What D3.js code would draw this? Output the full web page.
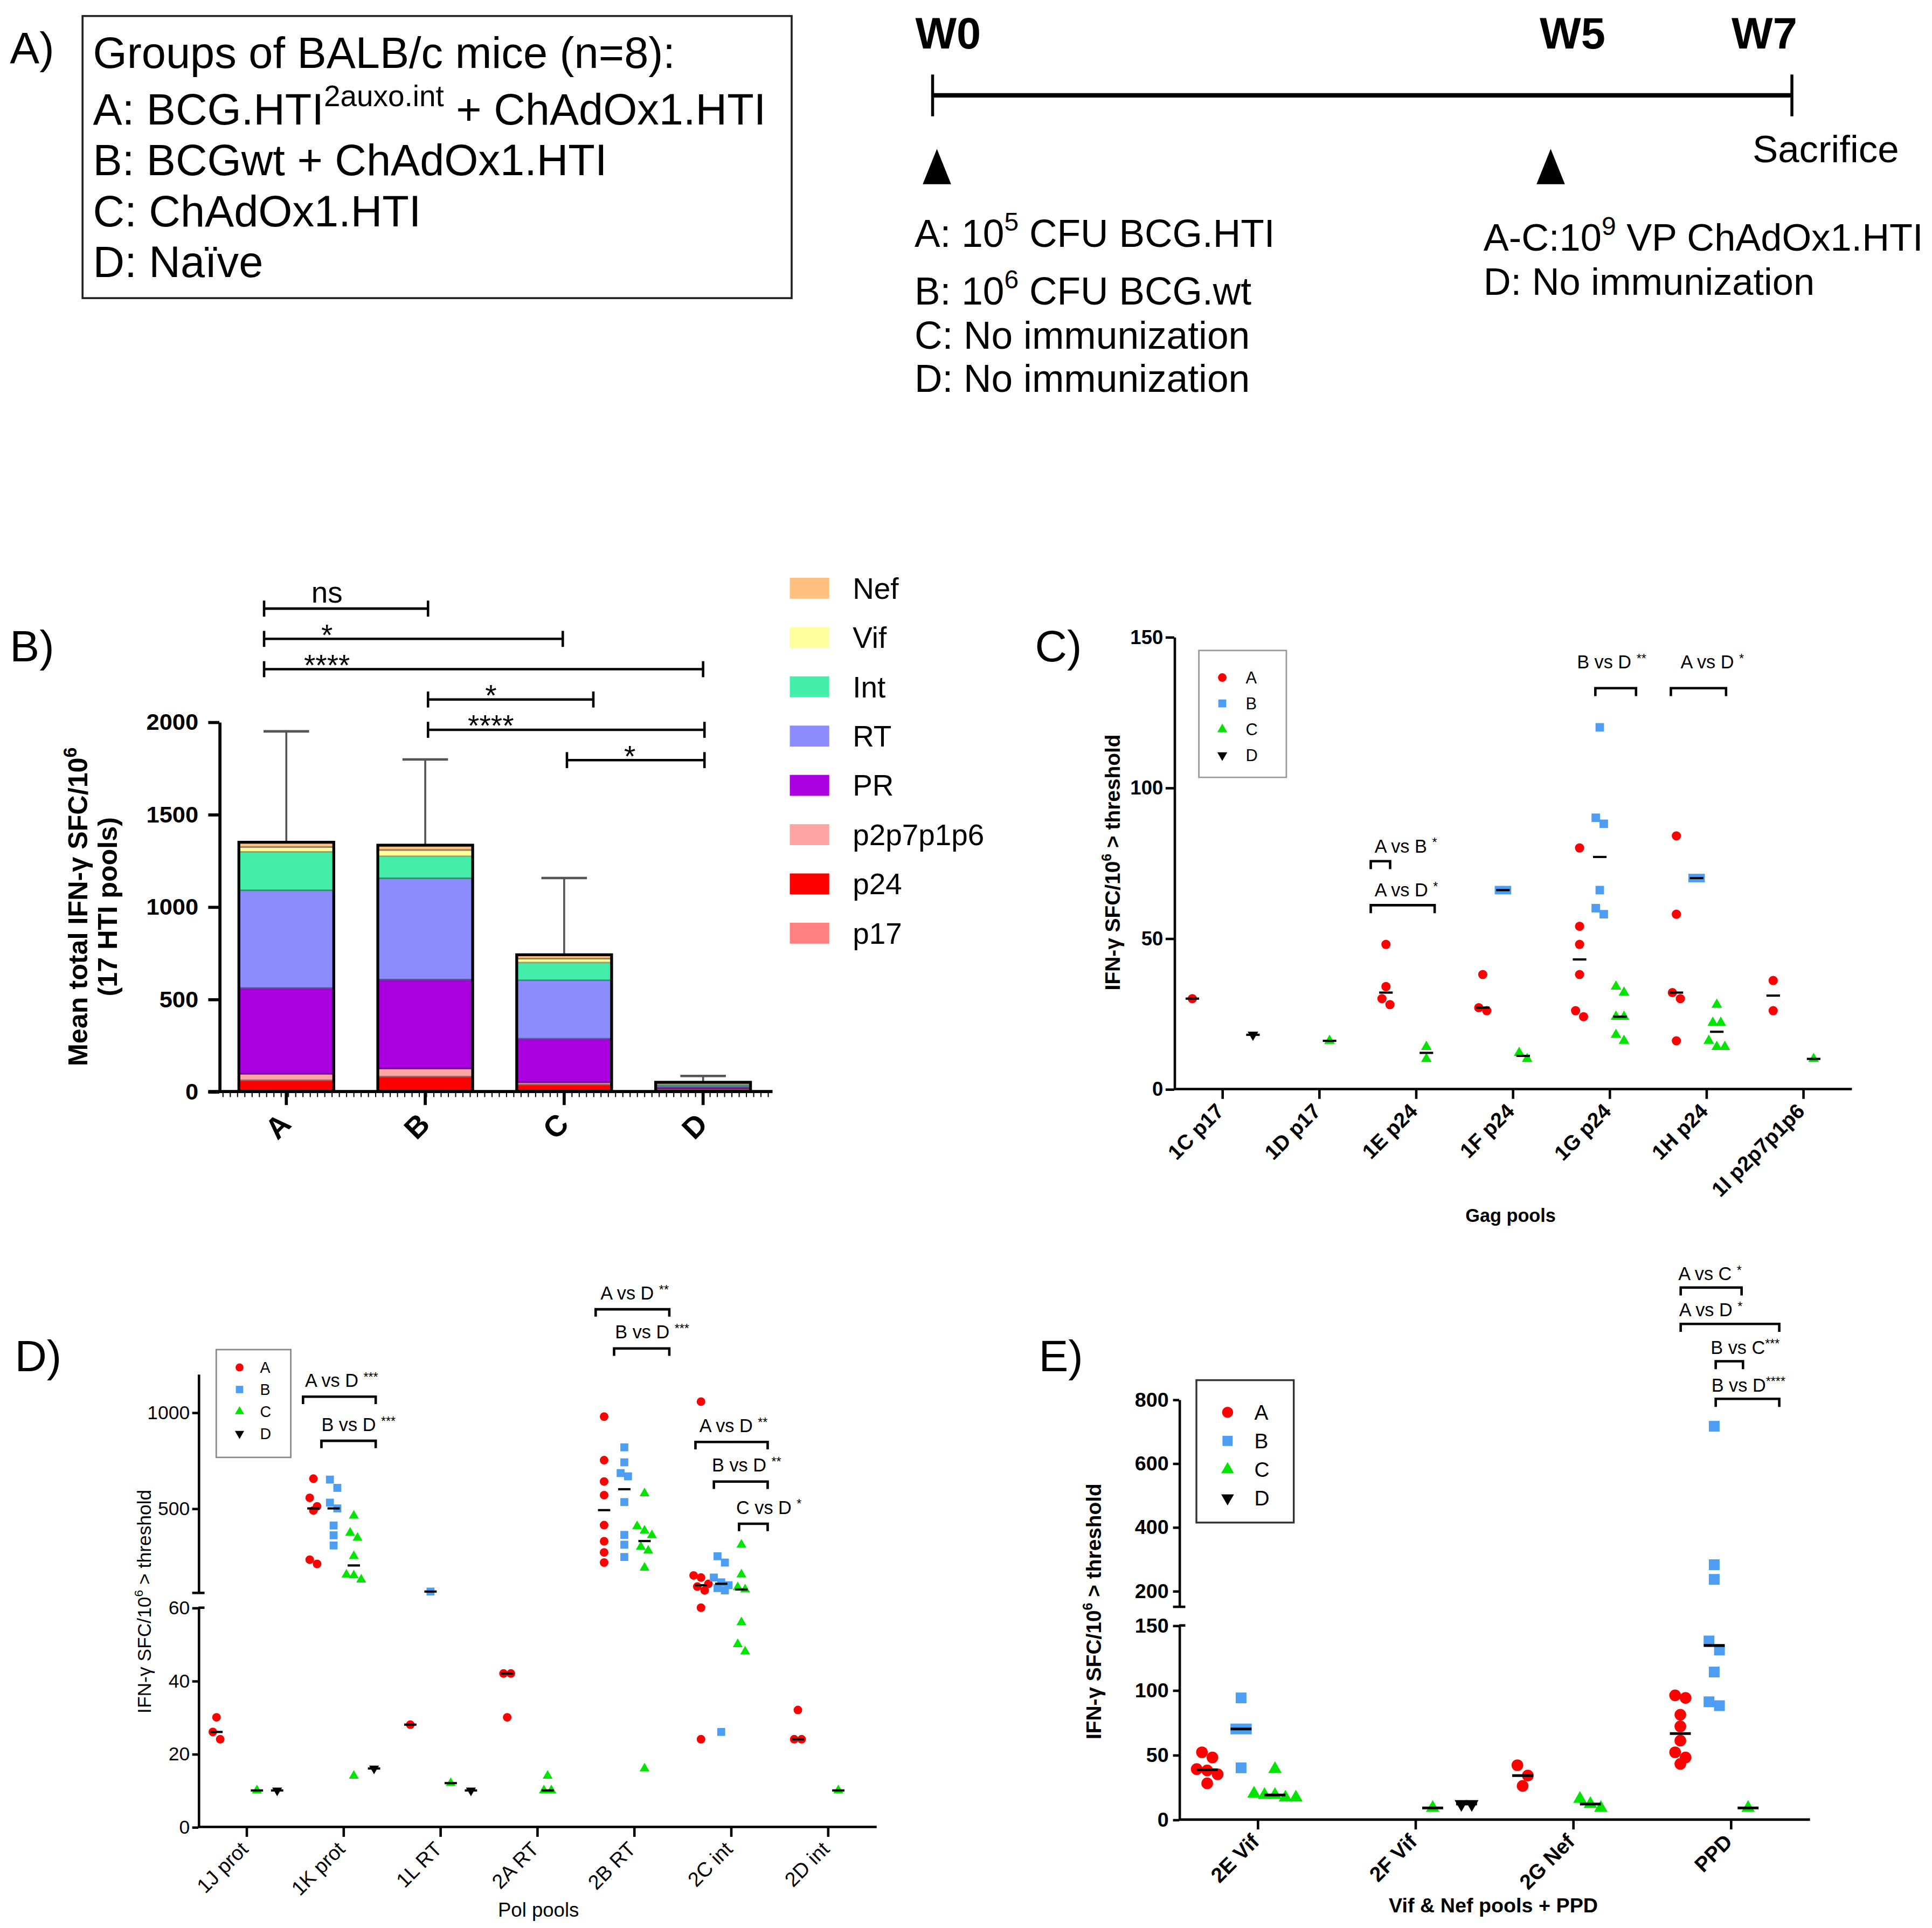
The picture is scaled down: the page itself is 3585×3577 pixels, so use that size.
<!DOCTYPE html>
<html>
<head>
<meta charset="utf-8">
<script src="https://cdn.jsdelivr.net/npm/d3@7"></script>
<style>
body { margin: 0; background: #fff; }
text { white-space: pre; }
</style>
</head>
<body>
<script>
// ---------- data ----------
const groups = ["A", "B", "C", "D"];
const groupColors = ["#ff0000", "#4d9ef2", "#00e400", "#000000"];

// panel B: mean SFC per antigen (stacked bottom-up) and SD of the total
const stackKeys = ["p17", "p24", "p2p7p1p6", "PR", "RT", "Int", "Vif", "Nef"];
const stackColors = ["#ff8080", "#ff0000", "#ffa4a4", "#aa00e0", "#8c8cff", "#44eeaa", "#ffffa0", "#ffc080"];
const p17Vals = [3, 3, 3, 8];
const p24Vals = [58, 78, 35, 6];
const p2p7p1p6Vals = [35, 44, 12, 4];
const prVals = [464, 481, 236, 6];
const rtVals = [529, 548, 316, 10];
const intVals = [208, 119, 96, 6];
const vifVals = [26, 34, 21, 5];
const nefVals = [26, 26, 21, 5];
const sdVals = [600, 464, 415, 34];
// significance bars of panel B: from / to in group units, row level
const sigB = [
  { a: -0.16, b: 1.02, level: 0, label: "ns" },
  { a: -0.16, b: 1.99, level: 1, label: "*" },
  { a: -0.16, b: 3.0, level: 2, label: "****" },
  { a: 1.02, b: 2.21, level: 3, label: "*" },
  { a: 1.02, b: 3.01, level: 4, label: "****" },
  { a: 2.02, b: 3.01, level: 5, label: "*" }
];

// panel C: Gag pools, individual mice per group
const gagPools = ["1C p17", "1D p17", "1E p24", "1F p24", "1G p24", "1H p24", "1I p2p7p1p6"];
const gagA = [[30], [], [48, 34, 30, 28], [38, 27, 26], [80, 54, 48, 38, 26, 24], [84, 58, 32, 30, 16], [36, 26]];
const gagB = [[], [], [], [66, 66], [120, 90, 88, 66, 60, 58], [70, 70], []];
const gagC = [[], [16], [14, 10], [12, 10], [34, 32, 24, 24, 18, 16], [28, 22, 22, 16, 14, 14], [10]];
const gagD = [[18], [], [], [], [], [], []];
const sigC = [
  { pool: 2, x0: -0.47, x1: -0.27, y: 75.6, tx: -0.43, gap: 7, label: "A vs B ", stars: "*" },
  { pool: 2, x0: -0.47, x1: 0.19, y: 61, tx: -0.43, gap: 7, label: "A vs D ", stars: "*" },
  { pool: 4, x0: -0.15, x1: 0.27, y: 133, tx: -0.34, gap: 16, label: "B vs D ", stars: "**" },
  { pool: 5, x0: -0.37, x1: 0.2, y: 133, tx: -0.27, gap: 16, label: "A vs D ", stars: "*" }
];

// panel D: Pol pools
const polPools = ["1J prot", "1K prot", "1L RT", "2A RT", "2B RT", "2C int", "2D int"];
const polA = [[30, 26, 24], [655, 555, 511, 489, 233, 211], [28], [42, 42, 30],
  [978, 751, 640, 569, 413, 329, 271, 218], [1056, 151, 140, 107, 93, 73, 60, 24], [32, 24, 24]];
const polB = [[], [650, 607, 530, 500, 411, 360, 307], [67], [],
  [818, 740, 684, 667, 533, 362, 311, 247], [251, 218, 140, 115, 100, 85, 73, 26], []];
const polC = [[10], [462, 373, 347, 251, 155, 151, 129, 14], [12], [14, 10, 10],
  [578, 407, 384, 360, 300, 280, 191, 16], [311, 156, 89, 78, 56, 50, 48], [10]];
const polD = [[10], [16], [10], [], [], [], []];
const sigD = [
  { pool: 1, x0: -0.42, x1: 0.33, y: 1082, tx: -0.40, label: "A vs D ", stars: "***" },
  { pool: 1, x0: -0.23, x1: 0.33, y: 852, tx: -0.23, label: "B vs D ", stars: "***" },
  { pool: 4, x0: -0.40, x1: 0.36, y: 1537, tx: -0.35, label: "A vs D ", stars: "**" },
  { pool: 4, x0: -0.21, x1: 0.36, y: 1333, tx: -0.20, label: "B vs D ", stars: "***" },
  { pool: 5, x0: -0.37, x1: 0.375, y: 846, tx: -0.33, label: "A vs D ", stars: "**" },
  { pool: 5, x0: -0.18, x1: 0.375, y: 640, tx: -0.20, label: "B vs D ", stars: "**" },
  { pool: 5, x0: 0.08, x1: 0.375, y: 420, tx: 0.05, label: "C vs D ", stars: "*" }
];

// panel E: Vif & Nef pools + PPD
const vnPools = ["2E Vif", "2F Vif", "2G Nef", "PPD"];
const vnA = [[52, 48, 39, 38, 35, 28], [], [42, 34, 26], [96, 94, 81, 72, 61, 52, 48, 43]];
const vnB = [[94, 70, 70, 40], [], [], [716, 282, 236, 138, 131, 114, 91, 88]];
const vnC = [[39, 20, 19, 19, 17, 17], [9], [16, 12, 9], [9]];
const vnD = [[], [12, 12], [], []];
const sigE = [
  { pool: 3, x0: -0.32, x1: 0.066, y: 1151, tx: -0.335, label: "A vs C ", stars: "*" },
  { pool: 3, x0: -0.32, x1: 0.305, y: 1037, tx: -0.33, label: "A vs D ", stars: "*" },
  { pool: 3, x0: -0.098, x1: 0.075, y: 920, tx: -0.13, label: "B vs C", stars: "***" },
  { pool: 3, x0: -0.098, x1: 0.305, y: 802, tx: -0.125, label: "B vs D", stars: "****" }
];

// ---------- page ----------
const FONT = '"Liberation Sans", Arial, Helvetica, sans-serif';
const W = 1568, H = 1565;
const fmt = d3.format("d");
const svg = d3.select("body").append("svg")
  .attr("width", 3585).attr("height", 3577)
  .attr("viewBox", `0 0 ${W} ${H}`)
  .attr("preserveAspectRatio", "none");
svg.append("rect").attr("width", W).attr("height", H).attr("fill", "#fff");

// text with optional superscript parts: [[text, isSup], ...]
function addText(parent, x, y, parts, fs, o = {}) {
  const t = parent.append("text").attr("x", x).attr("y", y)
    .attr("font-size", fs).attr("font-family", FONT)
    .attr("font-weight", o.weight || "normal")
    .attr("text-anchor", o.anchor || "start").attr("fill", "#000");
  if (o.transform) t.attr("transform", o.transform);
  if (typeof parts === "string") { t.text(parts); return t; }
  const supFs = o.supFs || fs * 0.65, raise = o.raise || fs * 0.42;
  let up = false;
  parts.forEach(([s, sup]) => {
    const ts = t.append("tspan").text(s);
    if (sup) { ts.attr("font-size", supFs); if (!up) { ts.attr("dy", -raise); up = true; } }
    else if (up) { ts.attr("dy", raise); up = false; }
  });
  return t;
}

function styleAxis(g, fs, weight, sw) {
  g.attr("font-size", fs).attr("font-family", FONT).attr("font-weight", weight);
  g.selectAll("path.domain").attr("stroke-width", sw);
  g.selectAll(".tick line").attr("stroke-width", sw);
}

function hline(g, x1, x2, y, sw) {
  g.append("line").attr("x1", x1).attr("x2", x2).attr("y1", y).attr("y2", y)
    .attr("stroke", "#000").attr("stroke-width", sw);
}

function drawMarker(g, gi, x, y, s) {
  const col = groupColors[gi];
  if (gi === 0) {
    g.append("circle").attr("cx", x).attr("cy", y).attr("r", s / 2).attr("fill", col);
  } else if (gi === 1) {
    const a = s * 0.92;
    g.append("rect").attr("x", x - a / 2).attr("y", y - a / 2).attr("width", a).attr("height", a).attr("fill", col);
  } else {
    const w = s * 1.15, h = w * 0.87, dir = gi === 2 ? 1 : -1;
    g.append("path")
      .attr("d", `M${x},${y - dir * h * 2 / 3}L${x + w / 2},${y + dir * h / 3}L${x - w / 2},${y + dir * h / 3}Z`)
      .attr("fill", col);
  }
}

// scatter dots with median, points close in height are spread sideways
function drawScatter(g, pools, sets, x, yf, o) {
  const bw = x.bandwidth();
  sets.forEach((set, gi) => {
    set.forEach((vals, pi) => {
      if (!vals.length) return;
      const cx = x(pools[pi]) + bw / 2 + (gi - 1.5) * o.gOff;
      const sorted = vals.slice().sort((a, b) => b - a);
      const clusters = [];
      sorted.forEach(v => {
        const last = clusters[clusters.length - 1];
        if (last && Math.abs(yf(last[0]) - yf(v)) < o.thr) last.push(v);
        else clusters.push([v]);
      });
      clusters.forEach(cl => cl.forEach((v, k) => {
        drawMarker(g, gi, cx + (k - (cl.length - 1) / 2) * o.step, yf(v), o.ms);
      }));
      const med = d3.median(vals);
      hline(g, cx - o.medW / 2, cx + o.medW / 2, yf(med), o.medSw);
    });
  });
}

function drawBrackets(g, list, pools, x, ys, o) {
  const bw = x.bandwidth();
  list.forEach(b => {
    const c = x(pools[b.pool]) + bw / 2;
    const x0 = c + b.x0 * bw, x1 = c + b.x1 * bw, y = ys(b.y);
    g.append("path").attr("d", `M${x0},${y + o.leg}V${y}H${x1}V${y + o.leg}`)
      .attr("fill", "none").attr("stroke", "#000").attr("stroke-width", o.sw);
    const t = g.append("text").attr("x", c + b.tx * bw).attr("y", y - (b.gap || o.gap))
      .attr("font-size", o.fs).attr("font-family", FONT);
    t.append("tspan").text(b.label);
    t.append("tspan").attr("font-size", o.fs * 0.68).attr("dy", -o.fs * 0.3).text(b.stars);
  });
}

function drawLegend(g, box, o) {
  g.append("rect").attr("x", box[0]).attr("y", box[1]).attr("width", box[2]).attr("height", box[3])
    .attr("fill", "#fff").attr("stroke", o.stroke).attr("stroke-width", o.sw);
  groups.forEach((name, i) => {
    const y = o.y0 + i * o.dy;
    drawMarker(g, i, o.mx, y, o.ms);
    addText(g, o.lx, y + o.fs * 0.36, name, o.fs);
  });
}

function categoryLabels(g, pools, x, axisY, fs, weight, dx, dy) {
  pools.forEach(p => {
    const cx = x(p) + x.bandwidth() / 2;
    addText(g, 0, 0, p, fs, { weight: weight, anchor: "end",
      transform: `translate(${cx + dx},${axisY + dy}) rotate(-45)` });
  });
}

// ---------- panel A ----------
const gA = svg.append("g");
addText(gA, 8, 51, "A)", 36);
gA.append("rect").attr("x", 67).attr("y", 13).attr("width", 575.5).attr("height", 229)
  .attr("fill", "none").attr("stroke", "#222").attr("stroke-width", 1.6);
const boxLines = [
  [["Groups of BALB/c mice (n=8):", false]],
  [["A: BCG.HTI", false], ["2auxo.int", true], [" + ChAdOx1.HTI", false]],
  [["B: BCGwt + ChAdOx1.HTI", false]],
  [["C: ChAdOx1.HTI", false]],
  [["D: Na\u00efve", false]]
];
const boxBase = [55, 101, 142.4, 183.7, 225];
boxLines.forEach((l, i) => addText(gA, 75.5, boxBase[i], l, 35.5, { supFs: 24, raise: 15 }));

// timeline
const weeks = [0, 5, 7];
const weekLabels = ["W0", "W5", "W7"];
const injectWeeks = [0, 5];
const tl = d3.scaleLinear().domain([0, 7]).range([756.9, 1454.3]);
hline(gA, tl(0), tl(7), 77.4, 3.6);
[0, 7].forEach(w => gA.append("line").attr("x1", tl(w)).attr("x2", tl(w)).attr("y1", 60.5).attr("y2", 94.4)
  .attr("stroke", "#000").attr("stroke-width", 2.4));
const weekAnchor = ["start", "start", "end"];
const weekDx = [-14, -5.4, 4.3];
weeks.forEach((w, i) => addText(gA, tl(w) + weekDx[i], 39.2, weekLabels[i], 35.5,
  { weight: "bold", anchor: weekAnchor[i] }));
injectWeeks.forEach(w => {
  const cx = tl(w) + 3.5;
  gA.append("path").attr("d", `M${cx},120.9L${cx + 11.5},149.5L${cx - 11.5},149.5Z`).attr("fill", "#000");
});
addText(gA, 1422.3, 131.5, "Sacrifice", 31);
const doseW0 = [
  [["A: 10", false], ["5", true], [" CFU BCG.HTI", false]],
  [["B: 10", false], ["6", true], [" CFU BCG.wt", false]],
  [["C: No immunization", false]],
  [["D: No immunization", false]]
];
const doseW0Base = [200.4, 247, 283.2, 318.2];
doseW0.forEach((l, i) => addText(gA, 742.2, doseW0Base[i], l, 31.2, { supFs: 21, raise: 13 }));
const doseW5 = [
  [["A-C:10", false], ["9", true], [" VP ChAdOx1.HTI", false]],
  [["D: No immunization", false]]
];
const doseW5Base = [203.6, 239.3];
doseW5.forEach((l, i) => addText(gA, 1204, doseW5Base[i], l, 30.8, { supFs: 21, raise: 13 }));

// ---------- panel B ----------
const gB = svg.append("g");
addText(gB, 8, 537, "B)", 36);
const xB = d3.scaleBand().domain(groups).range([176, 627]);
const yB = d3.scaleLinear().domain([0, 2000]).range([886, 586]);
const stackVals = { p17: p17Vals, p24: p24Vals, p2p7p1p6: p2p7p1p6Vals, PR: prVals,
  RT: rtVals, Int: intVals, Vif: vifVals, Nef: nefVals };
const rowsB = groups.map((g, i) => {
  const r = { group: g };
  stackKeys.forEach(k => { r[k] = stackVals[k][i]; });
  return r;
});
const totalsB = rowsB.map(r => d3.sum(stackKeys, k => r[k]));
const series = d3.stack().keys(stackKeys)(rowsB);
const barW = 77;
const cB = g => xB(g) + xB.bandwidth() / 2;

// error bars (upper SD)
rowsB.forEach((r, i) => {
  const cx = cB(r.group), top = yB(totalsB[i] + sdVals[i]);
  gB.append("line").attr("x1", cx).attr("x2", cx).attr("y1", yB(totalsB[i])).attr("y2", top)
    .attr("stroke", "#555").attr("stroke-width", 1.6);
  gB.append("line").attr("x1", cx - 18.5).attr("x2", cx + 18.5).attr("y1", top).attr("y2", top)
    .attr("stroke", "#555").attr("stroke-width", 2);
});
series.forEach((s, si) => {
  s.forEach(d => {
    const h = yB(d[0]) - yB(d[1]);
    gB.append("rect").attr("x", cB(d.data.group) - barW / 2).attr("y", yB(d[1]))
      .attr("width", barW).attr("height", h)
      .attr("fill", stackColors[si])
      .attr("stroke", d3.color(stackColors[si]).darker(1.3)).attr("stroke-width", 1.2);
  });
});
rowsB.forEach((r, i) => {
  gB.append("rect").attr("x", cB(r.group) - barW / 2).attr("y", yB(totalsB[i]))
    .attr("width", barW).attr("height", yB(0) - yB(totalsB[i]))
    .attr("fill", "none").attr("stroke", "#000").attr("stroke-width", 2.3);
});
// axes
const axB = gB.append("g").attr("transform", "translate(178,0)")
  .call(d3.axisLeft(yB).tickValues([0, 500, 1000, 1500, 2000]).tickFormat(fmt)
    .tickSize(9).tickPadding(8).tickSizeOuter(0));
styleAxis(axB, 19, "bold", 2.5);
hline(gB, 169, 627, 886, 2.5);
d3.range(181, 627, 5.9).forEach(x => gB.append("line").attr("x1", x).attr("x2", x)
  .attr("y1", 886).attr("y2", 890.5).attr("stroke", "#000").attr("stroke-width", 0.9));
groups.forEach(g => {
  gB.append("line").attr("x1", cB(g)).attr("x2", cB(g)).attr("y1", 886).attr("y2", 897)
    .attr("stroke", "#000").attr("stroke-width", 2.5);
  addText(gB, 0, 0, g, 24, { weight: "bold", anchor: "middle",
    transform: `translate(${cB(g) - 1},${920}) rotate(-45)` });
});
addText(gB, 0, 0, [["Mean total IFN-\u03b3 SFC/10", false], ["6", true]], 22,
  { weight: "bold", anchor: "middle", transform: "translate(71,736) rotate(-90)", supFs: 15, raise: 9 });
addText(gB, 0, 0, "(17 HTI pools)", 22,
  { weight: "bold", anchor: "middle", transform: "translate(95,736) rotate(-90)" });
// significance
const gIdx = i => xB(groups[0]) + xB.bandwidth() / 2 + i * xB.bandwidth();
sigB.forEach(s => {
  const y = 494 + s.level * 24.6, x0 = gIdx(s.a), x1 = gIdx(s.b);
  hline(gB, x0, x1, y, 2);
  [x0, x1].forEach(x => gB.append("line").attr("x1", x).attr("x2", x).attr("y1", y - 6.5).attr("y2", y + 6.5)
    .attr("stroke", "#000").attr("stroke-width", 2));
  const stars = s.label !== "ns";
  addText(gB, x0 + 51, stars ? y + 5 : y - 5, s.label, 24, { anchor: "middle" });
});
// legend
stackKeys.slice().reverse().forEach((k, i) => {
  const y = 477.5 + i * 40;
  const col = stackColors[stackKeys.length - 1 - i];
  gB.append("rect").attr("x", 641).attr("y", y - 8.5).attr("width", 32).attr("height", 17).attr("fill", col);
  addText(gB, 692, y + 8.5, k, 24);
});

// ---------- panel C ----------
const gC = svg.append("g");
addText(gC, 840, 537, "C)", 36);
const xC = d3.scaleBand().domain(gagPools).range([953, 1503]);
const yC = d3.scaleLinear().domain([0, 150]).range([884, 517]);
const axC = gC.append("g").attr("transform", "translate(953,0)")
  .call(d3.axisLeft(yC).tickValues([0, 50, 100, 150]).tickFormat(fmt)
    .tickSize(7).tickPadding(2).tickSizeOuter(0));
styleAxis(axC, 16, "bold", 2);
hline(gC, 953, 1503, 884, 2);
gagPools.forEach(p => {
  const cx = xC(p) + xC.bandwidth() / 2;
  gC.append("line").attr("x1", cx).attr("x2", cx).attr("y1", 884).attr("y2", 892)
    .attr("stroke", "#000").attr("stroke-width", 2);
});
categoryLabels(gC, gagPools, xC, 884, 17, "bold", 2, 19);
drawScatter(gC, gagPools, [gagA, gagB, gagC, gagD], xC, yC,
  { gOff: 16.4, ms: 7.5, step: 6.5, thr: 8, medW: 11, medSw: 1.8 });
drawBrackets(gC, sigC, gagPools, xC, yC, { leg: 6.5, sw: 2, fs: 15, gap: 7 });
drawLegend(gC, [973, 528, 71, 103], { stroke: "#999", sw: 1.2, y0: 550, dy: 21, mx: 992, lx: 1011, ms: 7, fs: 13.5 });
addText(gC, 0, 0, [["IFN-\u03b3 SFC/10", false], ["6", true], [" > threshold", false]], 17,
  { weight: "bold", anchor: "middle", transform: "translate(909,700) rotate(-90)", supFs: 11, raise: 7 });
addText(gC, 1226, 992, "Gag pools", 15, { weight: "bold", anchor: "middle" });

// ---------- panel D ----------
const gD = svg.append("g");
addText(gD, 12, 1113, "D)", 36);
const xD = d3.scaleBand().domain(polPools).range([161, 711.5]);
const yDLow = d3.scaleLinear().domain([0, 60]).range([1483, 1305]);
const yDHigh = d3.scaleLinear().domain([60, 1200]).range([1293, 1115.3]);
const yD = v => (v <= 60 ? yDLow(v) : yDHigh(v));
const axDl = gD.append("g").attr("transform", "translate(161,0)")
  .call(d3.axisLeft(yDLow).tickValues([0, 20, 40, 60]).tickFormat(fmt)
    .tickSize(5).tickPadding(2).tickSizeOuter(0));
styleAxis(axDl, 15.5, "normal", 2);
const axDh = gD.append("g").attr("transform", "translate(161,0)")
  .call(d3.axisLeft(yDHigh).tickValues([500, 1000]).tickFormat(fmt)
    .tickSize(5).tickPadding(2).tickSizeOuter(0));
styleAxis(axDh, 15.5, "normal", 2);
hline(gD, 156, 166, yDHigh(60), 2);
hline(gD, 161, 166, yDLow(60), 2);
hline(gD, 161, 711.5, 1483, 2);
polPools.forEach(p => {
  const cx = xD(p) + xD.bandwidth() / 2;
  gD.append("line").attr("x1", cx).attr("x2", cx).attr("y1", 1483).attr("y2", 1491)
    .attr("stroke", "#000").attr("stroke-width", 2);
});
categoryLabels(gD, polPools, xD, 1483, 16.5, "normal", 2, 19);
drawScatter(gD, polPools, [polA, polB, polC, polD], xD, yD,
  { gOff: 16.4, ms: 7, step: 6, thr: 7.5, medW: 10, medSw: 1.8 });
drawBrackets(gD, sigD, polPools, xD, yDHigh, { leg: 6, sw: 2, fs: 15, gap: 8 });
drawLegend(gD, [175.5, 1095.5, 60.5, 87.5], { stroke: "#888", sw: 1.2, y0: 1110, dy: 17.9, mx: 194.4, lx: 211, ms: 6.5, fs: 12.5 });
addText(gD, 0, 0, [["IFN-\u03b3 SFC/10", false], ["6", true], [" > threshold", false]], 15.5,
  { anchor: "middle", transform: "translate(122.5,1300) rotate(-90)", supFs: 10, raise: 6.5 });
addText(gD, 437, 1556, "Pol pools", 16, { anchor: "middle" });

// ---------- panel E ----------
const gE = svg.append("g");
addText(gE, 843, 1113, "E)", 36);
const xE = d3.scaleBand().domain(vnPools).range([957, 1469]);
const yELow = d3.scaleLinear().domain([0, 150]).range([1477, 1319.4]);
const yEHigh = d3.scaleLinear().domain([150, 800]).range([1304.3, 1136]);
const yE = v => (v <= 150 ? yELow(v) : yEHigh(v));
const axEl = gE.append("g").attr("transform", "translate(957,0)")
  .call(d3.axisLeft(yELow).tickValues([0, 50, 100, 150]).tickFormat(fmt)
    .tickSize(5).tickPadding(3.5).tickSizeOuter(0));
styleAxis(axEl, 16.5, "bold", 2);
const axEh = gE.append("g").attr("transform", "translate(957,0)")
  .call(d3.axisLeft(yEHigh).tickValues([200, 400, 600, 800]).tickFormat(fmt)
    .tickSize(5).tickPadding(3.5).tickSizeOuter(0));
styleAxis(axEh, 16.5, "bold", 2);
hline(gE, 952, 962, yEHigh(150), 2);
hline(gE, 957, 962, yELow(150), 2);
hline(gE, 957, 1469, 1477, 2);
vnPools.forEach(p => {
  const cx = xE(p) + xE.bandwidth() / 2;
  gE.append("line").attr("x1", cx).attr("x2", cx).attr("y1", 1477).attr("y2", 1485)
    .attr("stroke", "#000").attr("stroke-width", 2);
});
categoryLabels(gE, vnPools, xE, 1477, 17, "bold", 2, 19);
drawScatter(gE, vnPools, [vnA, vnB, vnC, vnD], xE, yE,
  { gOff: 27.5, ms: 9.5, step: 8.5, thr: 9, medW: 17, medSw: 2.2 });
drawBrackets(gE, sigE, vnPools, xE, yEHigh, { leg: 6.5, sw: 2, fs: 15, gap: 6 });
drawLegend(gE, [971, 1120.3, 79, 115.6], { stroke: "#333", sw: 1.5, y0: 1146.4, dy: 23.2, mx: 996.3, lx: 1018, ms: 9, fs: 17 });
addText(gE, 0, 0, [["IFN-\u03b3 SFC/10", false], ["6", true], [" > threshold", false]], 17,
  { weight: "bold", anchor: "middle", transform: "translate(893.5,1308) rotate(-90)", supFs: 11, raise: 7 });
addText(gE, 1212, 1552.5, "Vif & Nef pools + PPD", 16.5, { weight: "bold", anchor: "middle" });
</script>
</body>
</html>
